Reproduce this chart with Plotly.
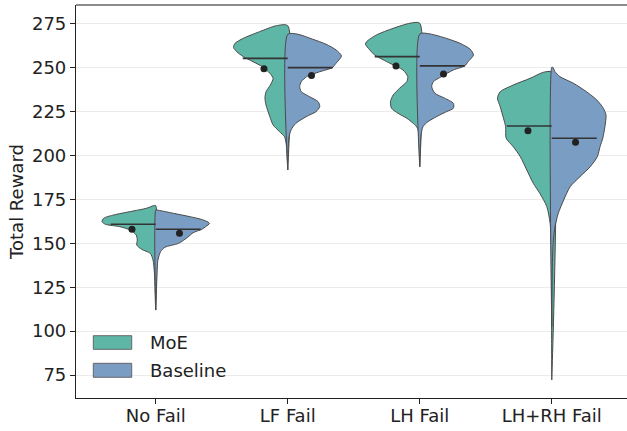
import plotly.graph_objects as go

# ---------------- data ----------------
categories = ["No Fail", "LF Fail", "LH Fail", "LH+RH Fail"]
series_names = ["MoE", "Baseline"]

# density profiles: reward levels and relative density (1 = widest)
nofail_moe_reward = [171.5, 170.0, 168.1, 166.2, 164.3, 162.4, 160.9, 159.5, 157.6, 154.8,
                     151.9, 149.1, 146.6, 144.3, 140.5, 133.0, 123.4, 115.9, 112.0]
nofail_moe_density = [0.04, 0.17, 0.47, 0.77, 0.96, 0.99, 0.93, 0.66, 0.47, 0.36,
                      0.34, 0.35, 0.26, 0.10, 0.05, 0.024, 0.013, 0.006, 0.0]
nofail_base_reward = [169.0, 167.1, 165.2, 163.3, 161.4, 159.5, 158.0, 156.1, 153.5, 150.0,
                      147.8, 145.3, 140.5, 131.0, 117.7, 112.0]
nofail_base_density = [0.02, 0.33, 0.63, 0.88, 0.99, 0.92, 0.85, 0.69, 0.59, 0.42,
                       0.17, 0.09, 0.04, 0.022, 0.007, 0.0]

lf_moe_reward = [274.0, 270.6, 266.8, 264.0, 261.7, 259.2, 256.4, 253.5, 250.7, 246.9, 244.0,
                 240.2, 236.4, 232.7, 228.8, 222.2, 217.5, 213.6, 210.8, 207.0, 201.3, 191.8]
lf_moe_density = [0.21, 0.52, 0.82, 0.97, 1.0, 0.94, 0.82, 0.64, 0.47, 0.33, 0.27,
                  0.32, 0.40, 0.42, 0.40, 0.33, 0.27, 0.15, 0.06, 0.03, 0.013, 0.0]
lf_base_reward = [269.1, 266.3, 263.4, 260.2, 256.8, 252.6, 250.1, 247.8, 245.0, 242.1, 239.3,
                  236.4, 233.6, 230.7, 227.9, 225.0, 222.2, 218.4, 214.6, 209.9, 203.2, 191.8]
lf_base_density = [0.19, 0.46, 0.71, 0.89, 0.99, 0.89, 0.82, 0.59, 0.35, 0.25, 0.22,
                   0.25, 0.40, 0.56, 0.59, 0.52, 0.34, 0.15, 0.06, 0.02, 0.006, 0.0]

lh_moe_reward = [275.4, 272.5, 268.7, 264.9, 263.4, 260.2, 257.3, 252.6, 248.8, 245.0, 242.1,
                 238.4, 234.5, 230.7, 227.0, 224.1, 221.3, 218.4, 215.6, 210.8, 193.7]
lh_moe_density = [0.18, 0.49, 0.80, 0.98, 1.0, 0.92, 0.83, 0.55, 0.31, 0.22, 0.24,
                  0.37, 0.49, 0.54, 0.52, 0.40, 0.24, 0.12, 0.04, 0.013, 0.0]
lh_base_reward = [269.3, 266.8, 264.0, 260.6, 257.3, 253.5, 251.1, 248.8, 245.0, 242.1, 239.3,
                  235.5, 232.7, 229.8, 227.0, 225.0, 222.2, 219.3, 216.5, 210.8, 193.7]
lh_base_density = [0.19, 0.49, 0.74, 0.93, 0.99, 0.89, 0.83, 0.62, 0.40, 0.25, 0.22,
                   0.28, 0.46, 0.62, 0.62, 0.49, 0.31, 0.15, 0.06, 0.02, 0.0]

lhrh_moe_reward = [247.5, 244.0, 240.2, 236.4, 232.7, 227.9, 221.3, 216.5, 209.9, 205.1,
                   199.4, 191.8, 184.2, 178.5, 170.9, 161.4, 151.9, 131.0, 72.2]
lhrh_moe_density = [0.15, 0.40, 0.71, 0.95, 1.0, 0.95, 0.89, 0.85, 0.84, 0.71,
                    0.58, 0.46, 0.34, 0.22, 0.09, 0.03, 0.013, 0.006, 0.0]
lhrh_base_reward = [250.3, 247.8, 245.0, 241.2, 236.4, 231.7, 227.0, 223.1, 216.5, 209.9, 205.1,
                    199.4, 193.7, 188.0, 182.3, 174.7, 167.1, 159.5, 151.9, 140.5, 102.5]
lhrh_base_density = [0.02, 0.06, 0.15, 0.40, 0.64, 0.83, 0.95, 1.0, 0.98, 0.94, 0.89,
                     0.84, 0.71, 0.52, 0.34, 0.22, 0.12, 0.06, 0.03, 0.013, 0.0]

moe_medians = [160.9, 255.4, 256.4, 216.9]
base_medians = [158.0, 250.1, 251.1, 209.9]
moe_means = [158.0, 249.5, 251.1, 214.2]
base_means = [155.7, 245.6, 246.5, 207.6]

y_ticks = [75, 100, 125, 150, 175, 200, 225, 250, 275]

# ---------------- styling ----------------
MOE_COLOR = "#5eb6a7"
BASE_COLOR = "#7a9dc4"
EDGE = "#4a4a4a"
HALF_WIDTH = 0.411
MEDIAN_LEN = 0.341
MEAN_OFFSET = 0.18
FONT = "DejaVu Sans"

moe_profiles = [(nofail_moe_reward, nofail_moe_density), (lf_moe_reward, lf_moe_density),
                (lh_moe_reward, lh_moe_density), (lhrh_moe_reward, lhrh_moe_density)]
base_profiles = [(nofail_base_reward, nofail_base_density), (lf_base_reward, lf_base_density),
                 (lh_base_reward, lh_base_density), (lhrh_base_reward, lhrh_base_density)]

fig = go.Figure()


def half_violin(center, rewards, density, side, color, name):
    xs = [center] + [center + side * HALF_WIDTH * d for d in density] + [center, center]
    ys = [rewards[0]] + list(rewards) + [rewards[-1], rewards[0]]
    fig.add_trace(go.Scatter(
        x=xs, y=ys, mode="lines", fill="toself", fillcolor=color,
        line=dict(color=EDGE, width=1, shape="spline", smoothing=0.7),
        name=name, showlegend=False, hoverinfo="skip"))


for i in range(len(categories)):
    half_violin(i, *moe_profiles[i], -1, MOE_COLOR, series_names[0])
    half_violin(i, *base_profiles[i], 1, BASE_COLOR, series_names[1])

# median lines
for medians, side in ((moe_medians, -1), (base_medians, 1)):
    mx, my = [], []
    for i, m in enumerate(medians):
        mx += [i, i + side * MEDIAN_LEN, None]
        my += [m, m, None]
    fig.add_trace(go.Scatter(x=mx, y=my, mode="lines",
                             line=dict(color="#333333", width=1.6),
                             showlegend=False, hoverinfo="skip"))

# mean dots
for means, side in ((moe_means, -1), (base_means, 1)):
    fig.add_trace(go.Scatter(
        x=[i + side * MEAN_OFFSET for i in range(len(means))], y=means,
        mode="markers", marker=dict(color="#222222", size=7),
        showlegend=False, hoverinfo="skip"))

# manual legend (patch + label)
legend_items = [(series_names[0], MOE_COLOR, 0.1239, 0.1585),
                (series_names[1], BASE_COLOR, 0.0527, 0.0883)]
shapes = []
annotations = []
for label, color, y0, y1 in legend_items:
    shapes.append(dict(type="rect", xref="paper", yref="paper",
                       x0=0.0314, x1=0.1011, y0=y0, y1=y1,
                       fillcolor=color, line=dict(color="#666666", width=1)))
    annotations.append(dict(xref="paper", yref="paper", x=0.1312, y=(y0 + y1) / 2,
                            text=label, showarrow=False, xanchor="left", yanchor="middle",
                            font=dict(family=FONT, size=18, color="#222222")))
# top spine
shapes.append(dict(type="line", xref="paper", yref="paper", x0=0, x1=1, y0=1, y1=1,
                   line=dict(color="#666666", width=1.5)))

fig.update_layout(
    width=627, height=431,
    margin=dict(l=76, r=0, t=5, b=33),
    paper_bgcolor="white", plot_bgcolor="white",
    font=dict(family=FONT, size=18, color="#222222"),
    shapes=shapes, annotations=annotations,
    xaxis=dict(range=[-0.604, 3.57], tickmode="array", tickvals=list(range(len(categories))),
               ticktext=categories, showgrid=False, zeroline=False,
               showline=True, linecolor="#222222", linewidth=1.2,
               ticks="outside", ticklen=5, tickcolor="#222222",
               ticklabelstandoff=-4,
               tickfont=dict(family=FONT, size=18, color="#222222")),
    yaxis=dict(range=[61.9, 285.8], tickmode="array", tickvals=y_ticks,
               showgrid=True, gridcolor="#ebebeb", gridwidth=1, zeroline=False,
               showline=True, linecolor="#222222", linewidth=1.2,
               ticks="outside", ticklen=5, tickcolor="#222222",
               tickfont=dict(family=FONT, size=18, color="#222222"),
               title=dict(text="Total Reward", standoff=3,
                          font=dict(family=FONT, size=18, color="#222222"))),
)

fig.write_html("out.html", config={"displayModeBar": False},
               post_script="document.body.style.margin='0';")
